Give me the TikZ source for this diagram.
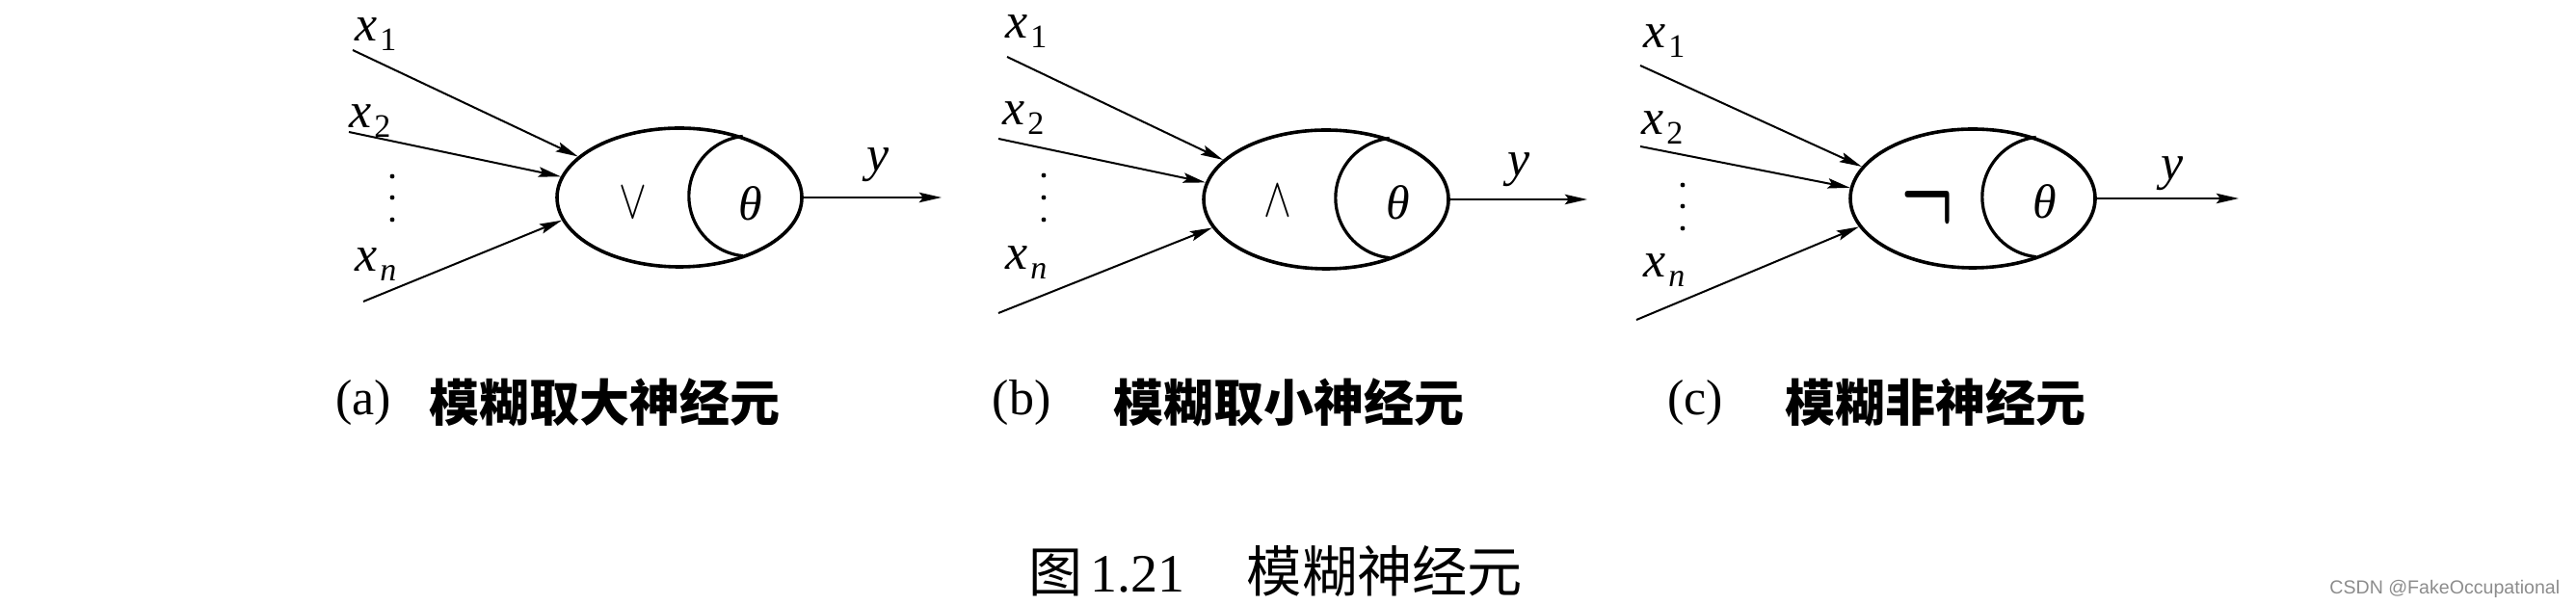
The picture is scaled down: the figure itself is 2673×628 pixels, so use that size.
\documentclass[tikz,border=0pt]{standalone}
\usepackage{fontspec}
\setmainfont{Liberation Serif}
\newfontfamily\cjk{Noto Sans CJK SC}
\newfontfamily\wmfont{Liberation Sans}
\usetikzlibrary{shapes.geometric,arrows.meta}
\newcommand\insub[1]{\textit{x}\kern0.6pt\raisebox{-2.3pt}{\fontsize{8.5}{8.5}\selectfont #1}}
\tikzset{
  x=0.25pt,y=0.25pt,
  neuron/.style={ellipse,draw,line width=0.9pt,minimum width=63.5pt,minimum height=36pt,inner sep=0pt},
  innerarc/.style={line width=0.8pt},
  inarrow/.style={line width=0.5pt,-{Stealth[length=5.8pt,width=2.6pt,inset=1pt]}},
  lab/.style={inner sep=0pt,font=\fontsize{13}{13}\selectfont},
  theta/.style={inner sep=0pt,font=\fontsize{12.5}{12.5}\selectfont},
  opsym/.style={inner sep=0pt},
  dotmark/.style={fill=black},
  capl/.style={inner sep=0pt,font=\fontsize{13}{13}\selectfont},
  capc/.style={inner sep=0pt,anchor=west,font=\fontsize{13}{13}\selectfont\cjk\bfseries},
}
\begin{document}
\begin{tikzpicture}
\useasboundingbox (0,0) rectangle (2673,-628);
% ---------- panel (a)
\node[neuron] (n1) at (705,-205) {};
\draw[innerarc] (n1.44) arc[start angle=96,end angle=264,radius=15.6pt];
\node[opsym] (op1) at (657,-211) {\scalebox{0.9}[1.2]{\fontsize{12}{12}\selectfont$\vee$}};
\node[theta] (th1) at (779,-211) {\textit{θ}};
\coordinate (s11) at (366,-52);
\coordinate (s12) at (362,-137);
\coordinate (s1n) at (377,-313);
\draw[inarrow] (s11) -- (n1.158);
\draw[inarrow] (s12) -- (n1.170);
\draw[inarrow] (s1n) -- (n1.191.6);
\coordinate (o1) at (977,-205);
\draw[inarrow] (n1.east) -- (o1);
\node[lab] (y1) at (911,-171) {\textit{y}};
\node[lab,anchor=base west] (l11) at (368,-43) {\insub{1}};
\node[lab,anchor=base west] (l12) at (362,-133) {\insub{2}};
\node[lab,anchor=base west] (l1n) at (368,-282) {\insub{\textit{n}}};
\fill[dotmark] (407,-183) circle[radius=0.6pt] (407,-205) circle[radius=0.6pt] (407,-228) circle[radius=0.6pt];
% ---------- panel (b)
\node[neuron] (n2) at (1376,-207) {};
\draw[innerarc] (n2.44) arc[start angle=96,end angle=264,radius=15.6pt];
\node[opsym] (op2) at (1326,-209) {\scalebox{0.9}[1.2]{\fontsize{12}{12}\selectfont$\wedge$}};
\node[theta] (th2) at (1451,-210) {\textit{θ}};
\coordinate (s21) at (1045,-59);
\coordinate (s22) at (1036,-144);
\coordinate (s2n) at (1036,-325);
\draw[inarrow] (s21) -- (n2.159);
\draw[inarrow] (s22) -- (n2.172);
\draw[inarrow] (s2n) -- (n2.194);
\coordinate (o2) at (1647,-207);
\draw[inarrow] (n2.east) -- (o2);
\node[lab] (y2) at (1576,-176) {\textit{y}};
\node[lab,anchor=base west] (l21) at (1043,-40) {\insub{1}};
\node[lab,anchor=base west] (l22) at (1040,-130) {\insub{2}};
\node[lab,anchor=base west] (l2n) at (1043,-280) {\insub{\textit{n}}};
\fill[dotmark] (1083,-182) circle[radius=0.6pt] (1083,-205) circle[radius=0.6pt] (1083,-228) circle[radius=0.6pt];
% ---------- panel (c)
\node[neuron] (n3) at (2047,-206) {};
\draw[innerarc] (n3.44) arc[start angle=96,end angle=264,radius=15.6pt];
\node[opsym] (op3) at (2000,-215) {\scalebox{1.5}[2.3]{\fontsize{13}{13}\selectfont\boldmath$\neg$}};
\node[theta] (th3) at (2122,-209) {\textit{θ}};
\coordinate (s31) at (1702,-68);
\coordinate (s32) at (1702,-152);
\coordinate (s3n) at (1698,-332);
\draw[inarrow] (s31) -- (n3.164);
\draw[inarrow] (s32) -- (n3.175);
\draw[inarrow] (s3n) -- (n3.194);
\coordinate (o3) at (2323,-206);
\draw[inarrow] (n3.east) -- (o3);
\node[lab] (y3) at (2254,-180) {\textit{y}};
\node[lab,anchor=base west] (l31) at (1705,-50) {\insub{1}};
\node[lab,anchor=base west] (l32) at (1703,-140) {\insub{2}};
\node[lab,anchor=base west] (l3n) at (1705,-288) {\insub{\textit{n}}};
\fill[dotmark] (1746,-192) circle[radius=0.6pt] (1746,-214) circle[radius=0.6pt] (1746,-237) circle[radius=0.6pt];
% ---------- sub captions
\node[capl] (ca) at (377,-418) {(a)};
\node[capc] (cta) at (445,-418) {模糊取大神经元};
\node[capl] (cb) at (1060,-418) {(b)};
\node[capc] (ctb) at (1155,-418) {模糊取小神经元};
\node[capl] (cc) at (1759,-418) {(c)};
\node[capc] (ctc) at (1852,-418) {模糊非神经元};
% ---------- figure caption
\node[inner sep=0pt,anchor=west,font=\fontsize{14}{14}\selectfont] (fig) at (1067,-593)
  {{\cjk 图}\hspace{2pt}1.21\hspace{16pt}{\fontsize{14.3}{14.3}\selectfont\cjk 模糊神经元}};
% ---------- watermark
\node[inner sep=0pt,anchor=east,text=black!45,font=\fontsize{4.9}{4.9}\selectfont\wmfont] (wm) at (2657,-611) {CSDN @FakeOccupational};
\end{tikzpicture}
\end{document}
